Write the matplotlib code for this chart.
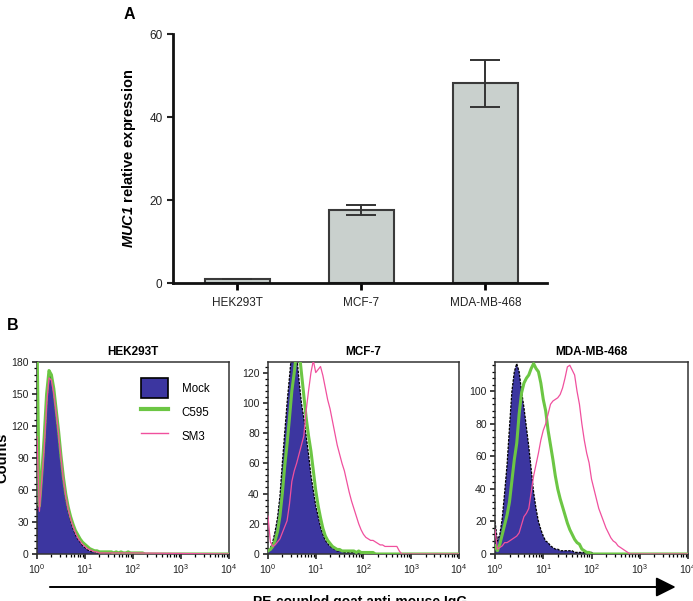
import numpy as np
import matplotlib
matplotlib.use('Agg')
from matplotlib import pyplot as plt
from matplotlib.patches import Patch, FancyArrowPatch
from matplotlib.lines import Line2D
from matplotlib.ticker import LogLocator, AutoMinorLocator, NullFormatter

# ---- panel A data ----
cells = ['HEK293T', 'MCF-7', 'MDA-MB-468']
muc1_mean = [1.0, 17.7, 48.1]
muc1_err = [0.1, 1.2, 5.7]

# ---- panel B data (log10 fluorescence, counts) ----
log_fl = [0.00, 0.05, 0.10, 0.15, 0.20, 0.25, 0.30, 0.35, 0.40, 0.45,
          0.50, 0.55, 0.60, 0.65, 0.70, 0.75, 0.80, 0.85, 0.90, 0.95,
          1.00, 1.05, 1.10, 1.15, 1.20, 1.25, 1.30, 1.35, 1.40, 1.45,
          1.50, 1.55, 1.60, 1.65, 1.70, 1.75, 1.80, 1.85, 1.90, 1.95,
          2.00, 2.05, 2.10, 2.15, 2.20, 2.25, 2.30, 2.35, 2.40, 2.45,
          2.50, 2.55, 2.60, 2.65, 2.70, 2.75, 2.80]

hek_mock = [40, 55, 75, 100, 140, 168, 165, 150, 130, 110, 88, 68, 52, 40, 31,
            24, 18, 14, 11, 8, 6, 4, 3, 2, 2, 1, 1, 1, 1, 1, 1, 0]
hek_c595 = [200, 45, 75, 110, 150, 172, 168, 155, 135, 115, 92, 72, 56, 44, 35,
            28, 22, 18, 14, 11, 9, 7, 5, 4, 3, 3, 2, 2, 2, 2, 2, 2, 1, 2, 1,
            2, 1, 1, 2, 1, 1, 1, 1, 1, 1, 0]
hek_sm3 = [110, 40, 70, 100, 140, 165, 163, 150, 132, 112, 90, 70, 54, 42, 33,
           26, 20, 15, 12, 9, 7, 5, 4, 3, 2, 2, 1, 1, 1, 1, 1, 1, 1, 1, 1, 1,
           1, 1, 1, 1, 1]

mcf_mock = [2, 4, 8, 15, 24, 38, 60, 80, 100, 117, 135, 140, 132, 115, 100,
            90, 78, 66, 52, 42, 32, 25, 18, 13, 9, 7, 5, 4, 3, 2, 2, 2, 1, 1,
            1, 1, 1, 1, 1, 1, 1, 0]
mcf_c595 = [2, 3, 5, 9, 15, 25, 40, 58, 73, 90, 108, 120, 135, 135, 120,
            105, 90, 78, 68, 55, 42, 32, 24, 17, 12, 9, 7, 5, 4, 3, 3, 2, 2, 2,
            2, 2, 2, 1, 2, 1, 1, 1, 1, 1, 1, 0]
mcf_sm3 = [25, 8, 5, 6, 8, 10, 14, 18, 22, 33, 48, 55, 60, 66, 72, 78, 95,
           108, 120, 128, 120, 122, 124, 118, 110, 102, 96, 88, 80, 72, 66, 60,
           55, 48, 41, 35, 30, 25, 20, 16, 13, 11, 10, 9, 9, 8, 7, 6, 6, 5, 5,
           5, 5, 5, 5, 2, 0]

mda_mock = [20, 8, 12, 22, 38, 55, 78, 100, 112, 117, 112, 100, 90, 78, 66,
            52, 38, 28, 20, 15, 11, 8, 7, 5, 4, 3, 3, 2, 2, 2, 2, 2, 2, 1, 1,
            1, 1, 1, 1, 1, 1, 0]
mda_c595 = [5, 2, 6, 12, 18, 24, 32, 45, 58, 68, 86, 99, 105, 108, 110, 114,
            117, 114, 112, 105, 95, 88, 76, 67, 58, 48, 40, 34, 29, 24, 19, 15,
            12, 9, 7, 6, 3, 2, 1, 1, 0]
mda_sm3 = [15, 3, 4, 5, 7, 7, 8, 9, 10, 11, 13, 18, 23, 25, 28, 38, 48, 55,
           62, 70, 76, 80, 86, 92, 94, 95, 96, 98, 102, 108, 115, 116, 113,
           110, 100, 92, 80, 70, 62, 56, 46, 40, 34, 28, 24, 20, 16, 13, 10,
           8, 7, 5, 4, 3, 2, 1, 0]

panels = [
    ('HEK293T', hek_mock, hek_c595, hek_sm3, 180, [0, 30, 60, 90, 120, 150, 180]),
    ('MCF-7', mcf_mock, mcf_c595, mcf_sm3, 127, [0, 20, 40, 60, 80, 100, 120]),
    ('MDA-MB-468', mda_mock, mda_c595, mda_sm3, 118, [0, 20, 40, 60, 80, 100]),
]

mock_col = '#3c36a0'
green = '#6cc644'
pink = '#f0509e'
spine_col = '#333333'

plt.rcParams['font.family'] = ['Liberation Sans', 'DejaVu Sans']
plt.rcParams['mathtext.fontset'] = 'custom'
plt.rcParams['mathtext.rm'] = 'Liberation Sans'
plt.rcParams['mathtext.it'] = 'Liberation Sans:italic'
plt.rcParams['mathtext.bf'] = 'Liberation Sans:bold'
plt.rcParams['mathtext.bfit'] = 'Liberation Sans:italic:bold'

fig = plt.figure(figsize=(6.93, 6.01), dpi=100)

# ---- panel A ----
axA = fig.add_axes([0.2496, 0.529, 0.5401, 0.4144])
xpos = np.arange(len(cells))
axA.bar(xpos, muc1_mean, width=0.52, color='#c9d0cd', edgecolor='#3a3a3a',
        linewidth=1.5, zorder=2)
axA.errorbar(xpos, muc1_mean, yerr=muc1_err, fmt='none', ecolor='#333333',
             elinewidth=1.4, capsize=11, capthick=1.4, zorder=3)
axA.set_xlim(-0.52, 2.5)
axA.set_ylim(0, 60)
axA.set_yticks([0, 20, 40, 60])
axA.set_xticks(xpos)
axA.set_xticklabels(cells, fontsize=8.5, color='#222222')
axA.tick_params(axis='y', labelsize=8.5, colors='#222222', length=4, width=1.5)
axA.tick_params(axis='x', length=5, width=2, pad=5)
for s in ['top', 'right']:
    axA.spines[s].set_visible(False)
for s in ['left', 'bottom']:
    axA.spines[s].set_linewidth(2)
    axA.spines[s].set_color('#111111')
axA.set_ylabel(r'$\bfit{MUC1}$' + ' relative expression', fontsize=10.5,
               fontweight='bold', labelpad=8)
fig.text(0.186, 0.988, 'A', fontsize=11.5, fontweight='bold', ha='center', va='top')

# ---- panel B ----
lefts = [0.0534, 0.3867, 0.7143]
widths = [0.277, 0.2756, 0.2785]
for i, (name, mock, c595, sm3, ytop, yt) in enumerate(panels):
    ax = fig.add_axes([lefts[i], 0.0782, widths[i], 0.3195])
    xm = 10 ** np.array(log_fl[:len(mock)])
    xg = 10 ** np.array(log_fl[:len(c595)])
    xp = 10 ** np.array(log_fl[:len(sm3)])
    ax.fill_between(xm, mock, color=mock_col, edgecolor='none', zorder=1)
    ax.plot(xm, mock, color='black', lw=0.9, ls=(0, (2, 1)), zorder=2)
    ax.plot(np.append(xg, 1e4), list(c595) + [0], color=green, lw=2.2, zorder=3)
    ax.plot(np.append(xp, 1e4), list(sm3) + [0], color=pink, lw=0.9, zorder=4)
    ax.set_xscale('log')
    ax.set_xlim(1, 1e4)
    ax.set_ylim(0, ytop)
    ax.set_yticks(yt)
    ax.yaxis.set_minor_locator(AutoMinorLocator(5))
    ax.xaxis.set_major_locator(LogLocator(base=10, numticks=10))
    ax.xaxis.set_minor_locator(LogLocator(base=10, subs=np.arange(2, 10), numticks=50))
    ax.xaxis.set_minor_formatter(NullFormatter())
    ax.tick_params(which='major', labelsize=7.5, length=3.5, width=1.2,
                   colors='#222222', pad=2.5)
    ax.tick_params(which='minor', length=2.5, width=0.9)
    for s in ax.spines.values():
        s.set_color(spine_col)
        s.set_linewidth(1.1)
    ax.set_title(name, fontsize=8.5, fontweight='bold', pad=5)
    if i == 0:
        handles = [Patch(facecolor=mock_col, edgecolor='black', linewidth=1.2),
                   Line2D([], [], color=green, lw=3),
                   Line2D([], [], color=pink, lw=1)]
        ax.legend(handles, ['Mock', 'C595', 'SM3'], loc='upper left',
                  bbox_to_anchor=(0.49, 0.97), frameon=False, fontsize=8.3,
                  handlelength=2.3, handleheight=2.3, handletextpad=1.2,
                  labelspacing=0.35)

fig.text(0.019, 0.458, 'B', fontsize=11.5, fontweight='bold', ha='center', va='center')
fig.text(0.004, 0.238, 'Counts', fontsize=10.5, fontweight='bold', rotation=90,
         ha='center', va='center')
fig.add_artist(FancyArrowPatch(
    (0.068, 0.0233), (0.979, 0.0233), transform=fig.transFigure,
    arrowstyle='-|>,head_length=8,head_width=4', mutation_scale=1.5,
    color='black', lw=1.4))
fig.text(0.52, 0.01, 'PE-coupled goat anti-mouse IgG', fontsize=10,
         fontweight='bold', ha='center', va='top')

fig.savefig('out.png', dpi=100)
